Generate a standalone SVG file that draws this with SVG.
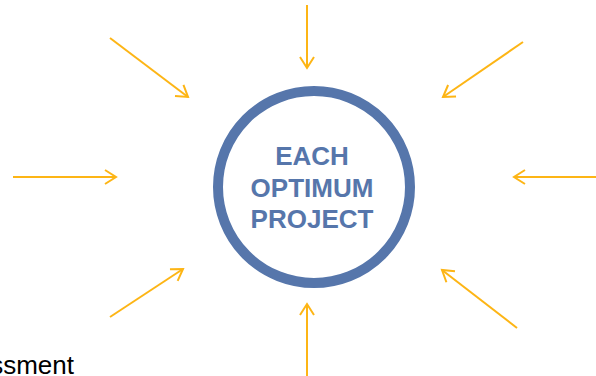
<svg xmlns="http://www.w3.org/2000/svg" width="596" height="376" viewBox="0 0 596 376">
<style>
.arr{stroke:#FDB515;stroke-width:2;fill:none;marker-end:url(#ah)}
.lbl{font-family:"Liberation Sans",Arial,sans-serif;font-weight:bold;font-size:26px;fill:#5676AB;text-anchor:middle}
.side{font-family:"Liberation Sans",Arial,sans-serif;font-size:26px;fill:#000;text-anchor:end}
</style>
<defs>
<marker id="ah" markerUnits="userSpaceOnUse" markerWidth="16" markerHeight="18" refX="12" refY="8" orient="auto" viewBox="0 0 16 16">
<path d="M1,1 L12,8 L1,15" fill="none" stroke="#FDB515" stroke-width="2"/>
</marker>
</defs>
<rect width="596" height="376" fill="#fff"/>
<g id="connectors">
<line class="arr" x1="307" y1="5" x2="307" y2="68"/>
<line class="arr" x1="110" y1="38" x2="188" y2="97"/>
<line class="arr" x1="523" y1="42" x2="443" y2="97"/>
<line class="arr" x1="13" y1="177" x2="116" y2="177"/>
<line class="arr" x1="596" y1="177" x2="514" y2="177"/>
<line class="arr" x1="110" y1="317" x2="183" y2="269"/>
<line class="arr" x1="517" y1="328" x2="442" y2="270"/>
<line class="arr" x1="307" y1="376" x2="307" y2="304"/>
</g>
<g id="center">
<circle cx="314" cy="187" r="96" fill="#fff" stroke="#5676AB" stroke-width="10"/>
<text class="lbl" x="312" y="165">EACH</text>
<text class="lbl" x="312" y="197">OPTIMUM</text>
<text class="lbl" x="312" y="228">PROJECT</text>
</g>
<g id="side-label">
<text class="side" x="74" y="374">Assessment</text>
</g>
</svg>
